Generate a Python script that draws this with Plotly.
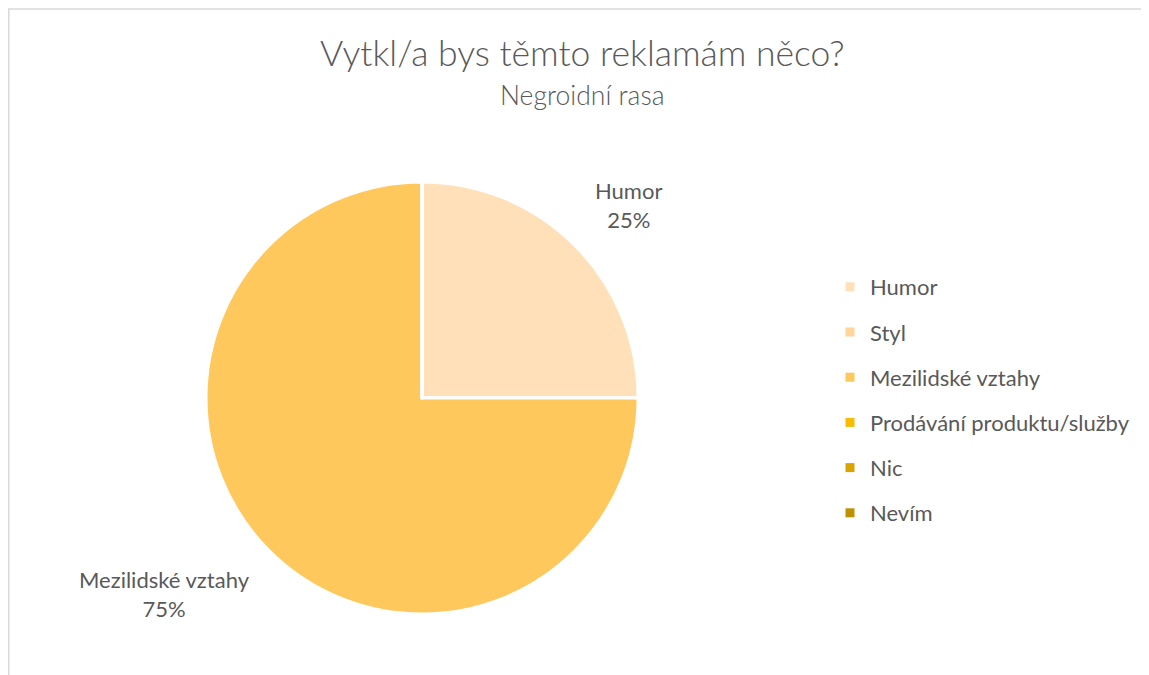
import plotly.graph_objects as go

labels = ["Humor", "Styl", "Mezilidské vztahy", "Prodávání produktu/služby", "Nic", "Nevím"]
values = [1, 0, 3, 0, 0, 0]
colors = ["#FFE0B8", "#FFD59B", "#FFC85D", "#F8BC00", "#D9A300", "#BF9000"]
title_text = "Vytkl/a bys těmto reklamám něco?"
subtitle_text = "Negroidní rasa"

W, H = 1149, 675
OFF = 8  # page offset of the figure (body margin)
FONT = "Lato"
TXT = "#595959"


def px(x):
    return (x - OFF) / W


def py(y):
    return 1 - (y - OFF) / H


fig = go.Figure()
fig.add_trace(go.Pie(
    labels=labels, values=values, sort=False, direction="clockwise", rotation=0,
    marker=dict(colors=colors, line=dict(color="white", width=3)),
    textinfo="none", showlegend=False, hoverinfo="label+percent",
    domain=dict(x=[px(206), px(638)], y=[py(614), py(182)]),
))

for i, (lab, col) in enumerate(zip(labels, colors)):
    fig.add_trace(go.Scatter(
        x=[None], y=[None], mode="markers", name=lab, legendgroup=f"g{i}",
        marker=dict(symbol="square", size=9, color=col, line=dict(width=0)),
        showlegend=True,
    ))

total = sum(values)
label_pos = {"Humor": (628, 205), "Mezilidské vztahy": (164, 594)}
annotations = []
for lab, v in zip(labels, values):
    if lab in label_pos:
        lx, ly = label_pos[lab]
        annotations.append(dict(
            x=px(lx), y=py(ly), xref="paper", yref="paper", showarrow=False,
            text=f"{lab}<br>{round(100 * v / total)}%", align="center",
            font=dict(family=FONT, size=22, color=TXT),
            xanchor="center", yanchor="middle",
        ))
annotations.append(dict(x=px(582), y=py(52), xref="paper", yref="paper", showarrow=False,
                        text=title_text, font=dict(family=FONT, size=35.5, color=TXT, weight=300),
                        xanchor="center", yanchor="middle"))
annotations.append(dict(x=px(582), y=py(95), xref="paper", yref="paper", showarrow=False,
                        text=subtitle_text, font=dict(family=FONT, size=26.5, color=TXT, weight=300),
                        xanchor="center", yanchor="middle"))

fig.update_layout(
    width=W, height=H, margin=dict(l=0, r=0, t=0, b=0),
    paper_bgcolor="white", plot_bgcolor="white",
    xaxis=dict(visible=False), yaxis=dict(visible=False),
    legend=dict(x=px(830), y=py(266), xanchor="left", yanchor="top",
                font=dict(family=FONT, size=22, color=TXT), tracegroupgap=13.6,
                bgcolor="rgba(0,0,0,0)"),
    annotations=annotations,
    shapes=[dict(type="rect", xref="paper", yref="paper", x0=0.8 / W, x1=1.5,
                 y0=-0.5, y1=py(9), line=dict(color="#D9D9D9", width=1.5))],
)

fig.write_html("out.html")
